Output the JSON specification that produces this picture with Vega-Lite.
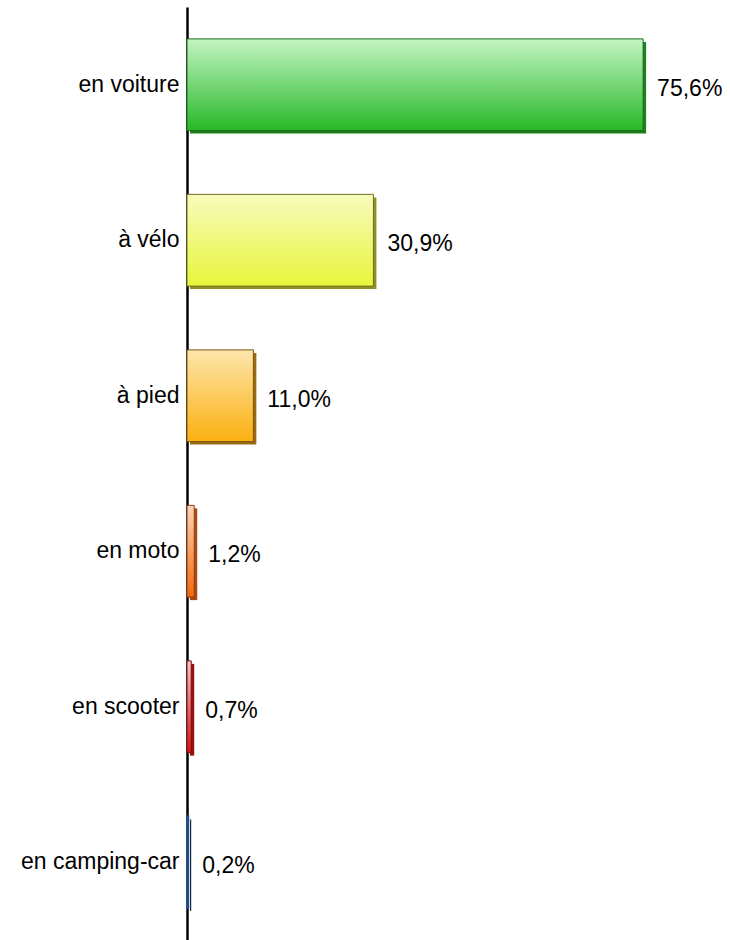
{
  "$schema": "https://vega.github.io/schema/vega-lite/v6.json",
  "autosize": "none",
  "width": 543,
  "height": 933,
  "padding": {"left": 187, "top": 7, "right": 0, "bottom": 0},
  "background": "white",
  "config": {"view": {"stroke": null}, "font": "Liberation Sans"},
  "data": {"values": [
    {"mode": "en voiture", "value": 75.6, "label": "75,6%"},
    {"mode": "à vélo", "value": 30.9, "label": "30,9%"},
    {"mode": "à pied", "value": 11.0, "label": "11,0%"},
    {"mode": "en moto", "value": 1.2, "label": "1,2%"},
    {"mode": "en scooter", "value": 0.7, "label": "0,7%"},
    {"mode": "en camping-car", "value": 0.2, "label": "0,2%"}
  ]},
  "encoding": {
    "y": {"field": "mode", "type": "nominal", "sort": null,
      "scale": {"paddingInner": 0.41, "paddingOuter": 0.205},
      "axis": {"title": null, "ticks": false, "labelPadding": 8, "labelFontSize": 23, "labelColor": "#000", "labelFont": "Liberation Sans", "domainColor": "#000", "domainWidth": 2.5, "labelLimit": 300}},
    "x": {"field": "value", "type": "quantitative", "scale": {"domain": [0, 90]}, "axis": null}
  },
  "layer": [
    {"mark": {"type": "bar", "xOffset": 3, "yOffset": 3},
     "encoding": {"color": {"field": "mode", "type": "nominal", "legend": null,
       "scale": {"domain": ["en voiture", "à vélo", "à pied", "en moto", "en scooter", "en camping-car"],
                 "range": ["#1f7f1f", "#8f8f26", "#9a6a12", "#a84a12", "#921414", "#10294d"]}}}},
    {"transform": [{"filter": "datum.mode == 'en voiture'"}],
     "mark": {"type": "bar", "stroke": "#1d6b1d", "strokeWidth": 1,
       "color": {"gradient": "linear", "x1": 0, "y1": 0, "x2": 0, "y2": 1, "stops": [{"offset": 0, "color": "#c4f4c4"}, {"offset": 1, "color": "#27b927"}]}}},
    {"transform": [{"filter": "datum.mode == 'à vélo'"}],
     "mark": {"type": "bar", "stroke": "#6f6f20", "strokeWidth": 1,
       "color": {"gradient": "linear", "x1": 0, "y1": 0, "x2": 0, "y2": 1, "stops": [{"offset": 0, "color": "#f7fbbd"}, {"offset": 1, "color": "#e7f53a"}]}}},
    {"transform": [{"filter": "datum.mode == 'à pied'"}],
     "mark": {"type": "bar", "stroke": "#7d5410", "strokeWidth": 1,
       "color": {"gradient": "linear", "x1": 0, "y1": 0, "x2": 0, "y2": 1, "stops": [{"offset": 0, "color": "#fde6ac"}, {"offset": 1, "color": "#fbb010"}]}}},
    {"transform": [{"filter": "datum.mode == 'en moto'"}],
     "mark": {"type": "bar", "stroke": "#8a3e10", "strokeWidth": 1,
       "color": {"gradient": "linear", "x1": 0, "y1": 0, "x2": 0, "y2": 1, "stops": [{"offset": 0, "color": "#fcd4b8"}, {"offset": 1, "color": "#f4680c"}]}}},
    {"transform": [{"filter": "datum.mode == 'en scooter'"}],
     "mark": {"type": "bar", "stroke": "#7a1010", "strokeWidth": 1,
       "color": {"gradient": "linear", "x1": 0, "y1": 0, "x2": 0, "y2": 1, "stops": [{"offset": 0, "color": "#f9c6c6"}, {"offset": 1, "color": "#dc1212"}]}}},
    {"transform": [{"filter": "datum.mode == 'en camping-car'"}],
     "mark": {"type": "bar", "stroke": "#1f4e87", "strokeWidth": 2, "color": "#1f4e87"}},
    {"mark": {"type": "text", "align": "left", "baseline": "middle", "dx": 14, "dy": 4, "fontSize": 23, "color": "#000", "font": "Liberation Sans"},
     "encoding": {"text": {"field": "label"}}}
  ]
}
